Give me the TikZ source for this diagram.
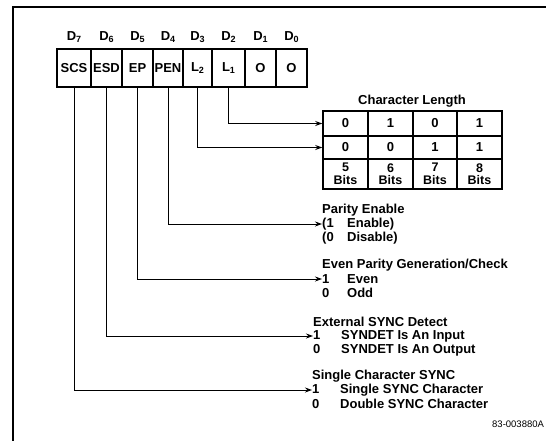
\documentclass[tikz,border=0pt]{standalone}
\usepackage{fontspec}
\setmainfont{Liberation Sans}
\usetikzlibrary{arrows.meta}
\newcommand\dsub[2]{#1\raisebox{-0.35ex}{\fontsize{9}{9}\selectfont #2}}
\begin{document}
\begin{tikzpicture}[x=1pt,y=-1pt,
  every node/.style={font=\fontsize{13}{12}\selectfont\bfseries},
  cell/.style={draw,line width=1.6pt,minimum height=38pt,inner sep=0pt},
  tcell/.style={draw,line width=1.5pt,inner sep=0pt,align=center},
  bits/.style={tcell,font=\fontsize{12.5}{12.5}\selectfont\bfseries},
  conn/.style={line width=1pt},
  arr/.style={conn,-{Stealth[length=7pt,width=5pt]}},
  lbl/.style={anchor=west,inner sep=0pt},
  frame/.style={line width=1.4pt},
]
\useasboundingbox (0,0) rectangle (546,440);
\draw[frame] (13,470) -- (13,7) -- (570,7);

% register cells
\node[cell,minimum width=34pt] (c7) at (74,68) {SCS};
\node[cell,minimum width=31pt] (c6) at (106.5,68) {ESD};
\node[cell,minimum width=31pt] (c5) at (137.5,68) {EP};
\node[cell,minimum width=30pt] (c4) at (168,68) {PEN};
\node[cell,minimum width=29pt] (c3) at (197.5,68) {\dsub{L}{2}};
\node[cell,minimum width=33pt] (c2) at (228.5,68) {\dsub{L}{1}};
\node[cell,minimum width=31pt] (c1) at (260.5,68) {O};
\node[cell,minimum width=31pt] (c0) at (291.5,68) {O};

% bit labels
\node (d7) at (74,37) {\dsub{D}{7}};
\node (d6) at (106.5,37) {\dsub{D}{6}};
\node (d5) at (137.5,37) {\dsub{D}{5}};
\node (d4) at (168,37) {\dsub{D}{4}};
\node (d3) at (197.5,37) {\dsub{D}{3}};
\node (d2) at (228.5,37) {\dsub{D}{2}};
\node (d1) at (260.5,37) {\dsub{D}{1}};
\node (d0) at (291.5,37) {\dsub{D}{0}};

% character length table
\node (clt) at (412,101) {Character Length};
\node[tcell,minimum width=45pt,minimum height=25pt] (t11) at (345.5,123.5) {0};
\node[tcell,minimum width=45pt,minimum height=25pt] (t12) at (390.5,123.5) {1};
\node[tcell,minimum width=44pt,minimum height=25pt] (t13) at (435,123.5) {0};
\node[tcell,minimum width=45pt,minimum height=25pt] (t14) at (479.5,123.5) {1};
\node[tcell,minimum width=45pt,minimum height=23pt] (t21) at (345.5,147.5) {0};
\node[tcell,minimum width=45pt,minimum height=23pt] (t22) at (390.5,147.5) {0};
\node[tcell,minimum width=44pt,minimum height=23pt] (t23) at (435,147.5) {1};
\node[tcell,minimum width=45pt,minimum height=23pt] (t24) at (479.5,147.5) {1};
\node[bits,minimum width=45pt,minimum height=30pt] (t31) at (345.5,174) {5\\Bits};
\node[bits,minimum width=45pt,minimum height=30pt] (t32) at (390.5,174) {6\\Bits};
\node[bits,minimum width=44pt,minimum height=30pt] (t33) at (435,174) {7\\Bits};
\node[bits,minimum width=45pt,minimum height=30pt] (t34) at (479.5,174) {8\\Bits};

% descriptions
\node[lbl] (pt) at (322,210) {Parity Enable};
\node[lbl] (p1) at (322,224) {\makebox[25pt][l]{(1}Enable)};
\node[lbl] (p0) at (322,238) {\makebox[25pt][l]{(0}Disable)};

\node[lbl] (et) at (322,265) {Even Parity Generation/Check};
\node[lbl] (e1) at (322,279) {\makebox[25pt][l]{1}Even};
\node[lbl] (e0) at (322,293) {\makebox[25pt][l]{0}Odd};

\node[lbl] (xt) at (313,322) {External SYNC Detect};
\node[lbl] (x1) at (313,336) {\makebox[28pt][l]{1}SYNDET Is An Input};
\node[lbl] (x0) at (313,350) {\makebox[28pt][l]{0}SYNDET Is An Output};

\node[lbl] (st) at (312,376) {Single Character SYNC};
\node[lbl] (s1) at (312,390) {\makebox[28pt][l]{1}Single SYNC Character};
\node[lbl] (s0) at (312,404) {\makebox[28pt][l]{0}Double SYNC Character};

\node[lbl,font=\fontsize{9.5}{10}\selectfont] (ref) at (492,424) {83-003880A};

% connectors
\draw[arr] (c2.south) |- (t11.west);
\draw[arr] (c3.south) |- (t21.west);
\draw[arr] (c4.south) |- (p1.west);
\draw[arr] (c5.south) |- (e1.west);
\draw[arr] (c6.south) |- (x1.west);
\draw[arr] (c7.south) |- (s1.west);
\end{tikzpicture}
\end{document}
